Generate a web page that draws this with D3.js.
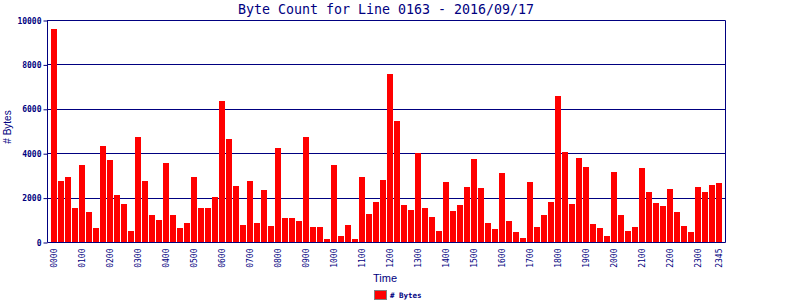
<!DOCTYPE html>
<html>
<head>
<meta charset="utf-8">
<script src="https://cdn.jsdelivr.net/npm/d3@7"></script>
<style>
  body { margin: 0; background: #fff; }
  svg { display: block; }
</style>
</head>
<body>
<div id="chart"></div>
<script>
// byte counts, one per 15 minutes
var times = [];
for (var h = 0; h < 24; h++) {
  ["00", "15", "30", "45"].forEach(function(m){
    times.push((h < 10 ? "0" : "") + h + m);
  });
}
var bytes = [
  9600, 2750, 2930, 1550, 3480, 1370, 650, 4330,
  3700, 2130, 1730, 500, 4730, 2750, 1230, 1000,
  3560, 1230, 650, 870, 2930, 1550, 1550, 2040,
  6350, 4640, 2530, 780, 2750, 870, 2350, 730,
  4230, 1100, 1100, 960, 4730, 690, 690, 150,
  3480, 280, 780, 150, 2930, 1280, 1820, 2800,
  7560, 5450, 1670, 1450, 4000, 1550, 1130, 500,
  2700, 1400, 1670, 2480, 3740, 2430, 870, 590,
  3100, 960, 460, 180, 2700, 690, 1230, 1820,
  6580, 4050, 1730, 3790, 3380, 820, 650, 280,
  3150, 1230, 500, 690, 3330, 2250, 1760, 1630,
  2390, 1370, 730, 460, 2480, 2250, 2570, 2660
];
var yTicks = [0, 2000, 4000, 6000, 8000, 10000];
var xTickLabels = times.filter(function(t, i){ return i % 4 === 0; }).concat(["2345"]);

var navy = "#000080";
var W = 800, H = 300;
var plot = { left: 47, right: 725, top: 20, bottom: 242 };

var svg = d3.select("#chart").append("svg")
  .attr("width", W)
  .attr("height", H);

var x = d3.scaleBand()
  .domain(times)
  .range([51, 722])
  .paddingInner(1 / 7)
  .paddingOuter(0);

var y = d3.scaleLinear()
  .domain([0, 10000])
  .range([plot.bottom, plot.top]);

// gridlines
svg.append("g").selectAll("line")
  .data(yTicks.filter(function(d){ return d > 0; }))
  .enter().append("line")
  .attr("x1", plot.left)
  .attr("x2", plot.right)
  .attr("y1", function(d){ return Math.round(y(d)) + 0.5; })
  .attr("y2", function(d){ return Math.round(y(d)) + 0.5; })
  .attr("stroke", navy)
  .attr("stroke-width", 1);

// bars
svg.append("g").selectAll("rect")
  .data(bytes)
  .enter().append("rect")
  .attr("x", function(d, i){ return x(times[i]); })
  .attr("width", x.bandwidth())
  .attr("y", function(d){ return y(d); })
  .attr("height", function(d){ return plot.bottom - y(d); })
  .attr("fill", "#ff0000")
  .attr("shape-rendering", "crispEdges");

// frame
svg.append("path")
  .attr("d", "M" + (plot.left + 0.5) + "," + (plot.top + 0.5) +
    "H" + (plot.right + 0.5) + "V" + (plot.bottom + 0.5) +
    "H" + (plot.left + 0.5) + "Z")
  .attr("fill", "none")
  .attr("stroke", navy)
  .attr("stroke-width", 1);

// y axis
var yAxis = svg.append("g")
  .attr("transform", "translate(" + (plot.left + 0.5) + ",0.5)")
  .call(d3.axisLeft(y).tickValues(yTicks).tickSize(4).tickPadding(2).tickFormat(d3.format("d")));
yAxis.select(".domain").remove();
yAxis.selectAll("line").attr("stroke", navy);
yAxis.selectAll("text")
  .attr("fill", navy)
  .style("font-family", "'DejaVu Sans Mono', monospace")
  .style("font-size", "8px")
  .style("font-weight", "bold");

// x axis
var xAxis = svg.append("g")
  .attr("transform", "translate(0," + (plot.bottom + 0.5) + ")")
  .call(d3.axisBottom(x).tickValues(xTickLabels).tickSize(0).tickPadding(0));
xAxis.select(".domain").remove();
xAxis.selectAll("text")
  .attr("fill", navy)
  .attr("transform", "rotate(-90)")
  .attr("x", -6)
  .attr("y", 0)
  .attr("dy", "0.35em")
  .style("text-anchor", "end")
  .style("font-family", "'DejaVu Sans Mono', monospace")
  .style("font-size", "8px");

// title
svg.append("text")
  .attr("x", (plot.left + plot.right) / 2)
  .attr("y", 14)
  .attr("text-anchor", "middle")
  .attr("fill", navy)
  .style("font-family", "'DejaVu Sans Mono', monospace")
  .style("font-size", "13.3px")
  .text("Byte Count for Line 0163 - 2016/09/17");

// axis titles
svg.append("text")
  .attr("transform", "translate(11,127) rotate(-90)")
  .attr("text-anchor", "middle")
  .attr("fill", navy)
  .style("font-family", "'Liberation Sans', sans-serif")
  .style("font-size", "10px")
  .text("# Bytes");

svg.append("text")
  .attr("x", 385)
  .attr("y", 282)
  .attr("text-anchor", "middle")
  .attr("fill", navy)
  .style("font-family", "'Liberation Sans', sans-serif")
  .style("font-size", "11px")
  .text("Time");

// legend
svg.append("rect")
  .attr("x", 374.5)
  .attr("y", 290.5)
  .attr("width", 12)
  .attr("height", 9)
  .attr("fill", "#ff0000")
  .attr("stroke", "#808080");
svg.append("text")
  .attr("x", 390)
  .attr("y", 298)
  .attr("fill", navy)
  .style("font-family", "'DejaVu Sans Mono', monospace")
  .style("font-size", "7.5px")
  .style("font-weight", "bold")
  .text("# Bytes");
</script>
</body>
</html>
